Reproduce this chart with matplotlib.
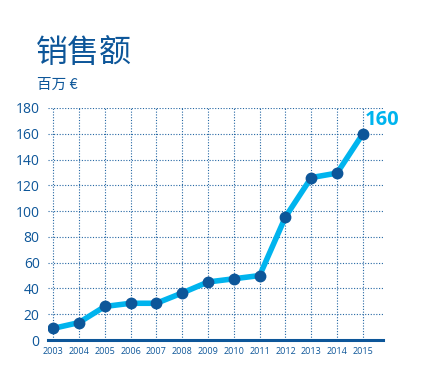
import matplotlib
matplotlib.use("Agg")
import matplotlib.pyplot as plt

plt.rcParams['font.family'] = ['Noto Sans CJK SC', 'DejaVu Sans']
num_font = ['Open Sans', 'Noto Sans CJK SC']

years = [2003, 2004, 2005, 2006, 2007, 2008, 2009, 2010, 2011, 2012, 2013, 2014, 2015]
sales = [9, 13.5, 26, 28.5, 28.5, 36.5, 45, 47.5, 50, 95.5, 126, 129.5, 160]
yticks = [0, 20, 40, 60, 80, 100, 120, 140, 160, 180]

dark = '#0d5699'
cyan = '#00b4ee'

fig = plt.figure(figsize=(4.25, 3.65), dpi=100)
ax = fig.add_axes([48 / 425, 25 / 365, (383 - 48) / 425, (340 - 108) / 365])

ax.plot(years, sales, color=cyan, lw=4, zorder=3, solid_capstyle='round')
ax.plot(years, sales, 'o', color=dark, ms=7.5, zorder=4)

ax.set_xlim(2002.8, 2015.78)
ax.set_ylim(0, 180)
ax.set_xticks(years)
ax.set_xticklabels([str(y) for y in years], fontsize=6.5, color=dark, family=num_font)
ax.set_yticks(yticks)
ax.set_yticklabels([str(v) for v in yticks], fontsize=10, color=dark, family=num_font)
ax.tick_params(axis='both', length=0)
ax.tick_params(axis='y', pad=6)
ax.tick_params(axis='x', pad=5)

ax.grid(True, color=dark, linestyle=(0, (1, 1.5)), linewidth=0.8, alpha=0.9)
ax.set_axisbelow(True)
for s in ['top', 'right', 'left']:
    ax.spines[s].set_visible(False)
ax.spines['bottom'].set_color(dark)
ax.spines['bottom'].set_linewidth(2.2)
ax.spines['bottom'].set_zorder(5)

ax.annotate(str(sales[-1]), (years[-1], sales[-1]), xytext=(1, 3),
            textcoords='offset points', fontsize=14.5, fontweight='bold',
            color=cyan, ha='left', va='bottom', family=num_font)

fig.text(36 / 425, 1 - 62 / 365, '销售额', fontsize=23, color=dark, va='baseline')
fig.text(37 / 425, 1 - 89 / 365, '百万 €', fontsize=10.5, color=dark, va='baseline')

fig.savefig('out.png', dpi=100)
